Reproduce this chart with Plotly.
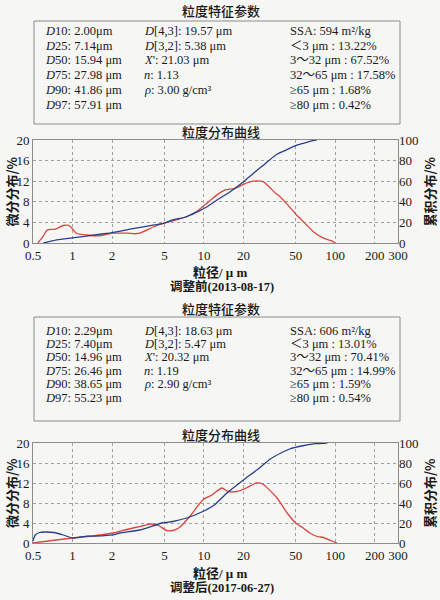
import math
import plotly.graph_objects as go

# ---------------- data ----------------
x_ticks = [0.5, 1, 2, 5, 10, 20, 50, 100, 200, 300]
x_ticklabels = ["0.5", "1", "2", "5", "10", "20", "50", "100", "200", "300"]
left_ticks = [0, 4, 8, 12, 16, 20]
right_ticks = [0, 20, 40, 60, 80, 100]

# Before adjustment (2013-08-17)
pre_diff_x = [0.545, 0.6, 0.64, 0.74, 0.85, 0.93, 0.98, 1.07, 1.28, 1.62, 2.03, 2.6, 3.0, 3.25,
              4.2, 4.9, 5.8, 7.4, 8.8, 10.5, 12.5, 14.5, 17.3, 20, 23.7, 28.2, 35.3, 38, 42.4,
              51, 60, 68, 82, 94, 100]
pre_diff = [0, 1.4, 2.5, 2.7, 3.4, 3.4, 3.0, 1.9, 1.55, 1.4, 1.9, 1.9, 1.8, 1.9,
            3.2, 3.8, 4.3, 5.1, 6.1, 7.7, 9.3, 10.3, 10.6, 11.4, 12.0, 11.9, 9.6, 9.0, 7.7,
            5.4, 3.6, 2.2, 0.9, 0.4, 0]
pre_cum_x = [0.6, 0.76, 1.0, 1.62, 2.0, 2.88, 4.2, 4.9, 5.8, 7.14, 8.8, 10.5, 12.5, 15.94, 20,
             23.7, 27.98, 35.3, 41.86, 51, 57.91, 65, 72]
pre_cum = [0, 3, 5, 8.5, 10, 14, 17.5, 19, 22.5, 25, 30, 35, 41.5, 50, 59.5,
           67.5, 75, 85.5, 90, 95, 97, 99, 100]

# After adjustment (2017-06-27)
post_diff_x = [0.5, 0.7, 1.0, 1.3, 1.6, 2.03, 2.5, 3.0, 3.5, 3.9, 4.5, 5.2, 5.8, 6.5, 7.8, 9.8,
               11.5, 13.7, 15.3, 17.8, 21, 25, 28, 36, 43, 50, 57, 64, 73, 81, 96, 103]
post_diff = [0, 0.5, 1.0, 1.3, 1.6, 2.0, 2.6, 3.1, 3.5, 3.8, 3.5, 2.5, 2.5, 3.1, 5.3, 8.6,
             9.6, 11.0, 10.3, 10.3, 11.0, 12.0, 11.8, 9.0, 6.0, 4.0, 3.0, 2.0, 1.3, 1.1, 0.3, 0]
post_cum_x = [0.5, 0.52, 0.56, 0.62, 0.72, 0.85, 1.0, 1.15, 1.3, 1.5, 2.03, 2.29, 3.25, 4.8, 5.8,
              7.4, 9.8, 12, 14.96, 20, 26.46, 32, 38.65, 45, 55.23, 70, 87]
post_cum = [2, 8, 10.5, 11, 10.5, 8, 5, 6, 6.8, 7, 8.2, 10, 13, 20, 21.5,
            25, 31.5, 38, 50, 63, 75, 84, 90, 94, 97, 99.3, 100]

# Parameter tables
pre_col1 = ["<i>D</i>10: 2.00μm", "<i>D</i>25: 7.14μm", "<i>D</i>50: 15.94 μm",
            "<i>D</i>75: 27.98 μm", "<i>D</i>90: 41.86 μm", "<i>D</i>97: 57.91 μm"]
pre_col2 = ["<i>D</i>[4,3]: 19.57 μm", "<i>D</i>[3,2]: 5.38 μm", "<i>X</i>': 21.03 μm",
            "<i>n</i>: 1.13", "<i>ρ</i>: 3.00 g/cm³", ""]
pre_col3 = ["SSA: 594 m²/kg", "＜3 μm : 13.22%", "3～32 μm : 67.52%",
            "32～65 μm : 17.58%", "≥65 μm : 1.68%", "≥80 μm : 0.42%"]
post_col1 = ["<i>D</i>10: 2.29μm", "<i>D</i>25: 7.40μm", "<i>D</i>50: 14.96 μm",
             "<i>D</i>75: 26.46 μm", "<i>D</i>90: 38.65 μm", "<i>D</i>97: 55.23 μm"]
post_col2 = ["<i>D</i>[4,3]: 18.63 μm", "<i>D</i>[3,2]: 5.47 μm", "<i>X</i>': 20.32 μm",
             "<i>n</i>: 1.19", "<i>ρ</i>: 2.90 g/cm³", ""]
post_col3 = ["SSA: 606 m²/kg", "＜3 μm : 13.01%", "3～32 μm : 70.41%",
             "32～65 μm : 14.99%", "≥65 μm : 1.59%", "≥80 μm : 0.54%"]

box_title = "粒度特征参数"
chart_title = "粒度分布曲线"
x_title = "粒径/ μ m"
left_title = "微分分布/%"
right_title = "累积分布/%"
pre_caption = "调整前(2013-08-17)"
post_caption = "调整后(2017-06-27)"

# ---------------- layout helpers ----------------
W, H = 440, 600
BG = "#f6f6f4"
RED = "#d8473f"
BLUE = "#283f8c"
SERIF = "Liberation Serif, Noto Sans CJK SC"
CJK = "Noto Sans CJK SC"
INK = "#1a1a1a"


def px(x):
    return x / W


def py(y):
    return 1 - y / H


def note(text, x, y, font, xanchor="center", **kw):
    return dict(text=text, x=px(x), y=py(y), xref="paper", yref="paper", showarrow=False,
                xanchor=xanchor, yanchor="middle", font=font, **kw)


fig = go.Figure()

X_DOM = [px(33), px(398)]
panels = [
    dict(xa="x", ya="y", ya2="y2", dom=[py(243), py(140)], top=140, bot=243,
         diff_x=pre_diff_x, diff=pre_diff, cum_x=pre_cum_x, cum=pre_cum,
         box=(21, 124), title_y=11, rows=(31, 14.7), cols=(pre_col1, pre_col2, pre_col3),
         ctitle_y=132, xt_y=272, cap_y=287, cap=pre_caption),
    dict(xa="x2", ya="y3", ya2="y4", dom=[py(543), py(443)], top=443, bot=543,
         diff_x=post_diff_x, diff=post_diff, cum_x=post_cum_x, cum=post_cum,
         box=(317, 421), title_y=308, rows=(330.5, 13.4), cols=(post_col1, post_col2, post_col3),
         ctitle_y=434, xt_y=573, cap_y=587, cap=post_caption),
]

axis_line = dict(showline=True, linecolor="#8c8c8c", linewidth=1, mirror=True, ticks="",
                 zeroline=False, automargin=False)
grid = dict(showgrid=True, gridcolor="#a0a0a0", griddash="dot", gridwidth=0.8)
tickfont = dict(family="Liberation Serif", size=13, color=INK)

annotations = []
shapes = []

for i, p in enumerate(panels):
    n = "" if i == 0 else str(i + 1)
    fig.add_trace(go.Scatter(x=p["diff_x"], y=p["diff"], mode="lines", xaxis=p["xa"], yaxis=p["ya"],
                             line=dict(color=RED, width=1.3, shape="spline", smoothing=0.6),
                             showlegend=False, hoverinfo="skip"))
    fig.add_trace(go.Scatter(x=p["cum_x"], y=p["cum"], mode="lines", xaxis=p["xa"], yaxis=p["ya2"],
                             line=dict(color=BLUE, width=1.3, shape="spline", smoothing=0.6),
                             showlegend=False, hoverinfo="skip"))
    xkey = "xaxis" + n
    yk1 = "yaxis" + ("" if i == 0 else "3")
    yk2 = "yaxis" + ("2" if i == 0 else "4")
    fig.layout[xkey] = dict(type="log", range=[math.log10(0.5), math.log10(300)], domain=X_DOM,
                            anchor=p["ya"], tickvals=x_ticks, ticktext=x_ticklabels,
                            tickfont=tickfont, **axis_line, **grid)
    fig.layout[yk1] = dict(range=[0, 20], domain=p["dom"], anchor=p["xa"], tickvals=left_ticks,
                           tickfont=tickfont, **axis_line, **grid)
    fig.layout[yk2] = dict(range=[0, 100], domain=p["dom"], anchor=p["xa"], overlaying=p["ya"],
                           side="right", tickvals=right_ticks, tickfont=tickfont,
                           showgrid=False, zeroline=False, ticks="", showline=False,
                           automargin=False)

    # parameter box
    b0, b1 = p["box"]
    shapes.append(dict(type="rect", xref="paper", yref="paper", x0=px(34), x1=px(400),
                       y0=py(b1), y1=py(b0), line=dict(color="#8c8c8c", width=1)))
    annotations.append(note(box_title, 221, p["title_y"], dict(family=CJK, size=13, color=INK, weight=500)))
    r0, dr = p["rows"]
    for cx, col in zip((43, 142, 288), p["cols"]):
        for k, t in enumerate(col):
            if not t:
                continue
            annotations.append(note(t, cx, r0 + k * dr, dict(family=SERIF, size=12.5, color=INK),
                                    xanchor="left"))
    annotations.append(note(chart_title, 221, p["ctitle_y"], dict(family=CJK, size=13, color=INK, weight=500)))
    mid = (p["top"] + p["bot"]) / 2
    annotations.append(note(left_title, 11, mid, dict(family=CJK, size=13, color=INK, weight="bold"),
                            textangle=-90))
    annotations.append(note(right_title, 429, mid, dict(family=CJK, size=13, color=INK, weight="bold"),
                            textangle=-90))
    annotations.append(note(x_title, 220, p["xt_y"], dict(family=SERIF, size=13, color=INK, weight="bold")))
    annotations.append(note(p["cap"], 222, p["cap_y"], dict(family=SERIF, size=12.5, color=INK, weight="bold")))

fig.update_layout(width=W, height=H, autosize=False, margin=dict(l=0, r=0, t=0, b=0, pad=0),
                  paper_bgcolor=BG, plot_bgcolor=BG, showlegend=False, hovermode=False,
                  annotations=annotations, shapes=shapes)

fig.write_html("out.html", config={"displayModeBar": False},
               post_script="document.body.style.margin='0';document.body.style.background='" + BG + "';")
